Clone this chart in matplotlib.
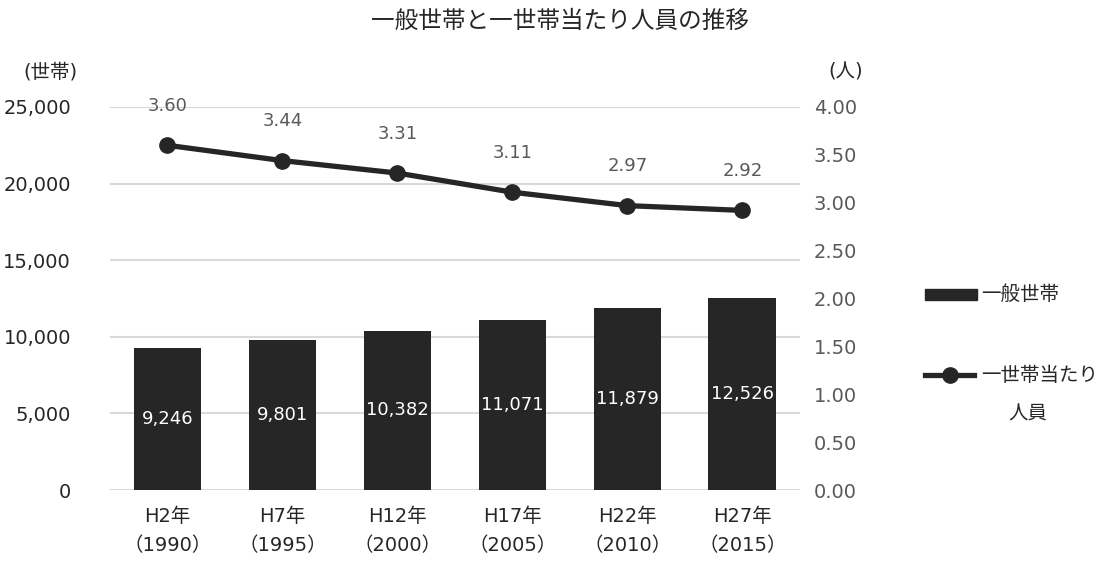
import matplotlib.pyplot as plt
from matplotlib.lines import Line2D
from matplotlib.patches import Rectangle

plt.rcParams['font.family'] = ['DejaVu Sans', 'Noto Sans CJK JP']

# データ
years = ['H2年\n（1990）', 'H7年\n（1995）', 'H12年\n（2000）',
         'H17年\n（2005）', 'H22年\n（2010）', 'H27年\n（2015）']
households = [9246, 9801, 10382, 11071, 11879, 12526]
persons = [3.60, 3.44, 3.31, 3.11, 2.97, 2.92]

dark = '#262626'
grey = '#595959'

fig = plt.figure(figsize=(11.2, 5.74), dpi=100)
ax = fig.add_axes([0.0982, 0.1463, 0.616, 0.6673])
ax2 = ax.twinx()

x = range(len(years))
ax.set_axisbelow(True)
ax.bar(x, households, width=0.59, color=dark, zorder=2)
for xi, v in zip(x, households):
    ax.text(xi, v / 2, f'{v:,}', color='white', ha='center', va='center',
            fontsize=13, zorder=3)

ax.set_ylim(0, 25000)
ax.set_yticks(range(0, 25001, 5000))
ax.set_yticklabels([f'{v:,}' for v in range(0, 25001, 5000)])
ax.set_xlim(-0.5, len(years) - 0.5)
ax.set_xticks(list(x))
ax.set_xticklabels(years, linespacing=1.7)
ax.grid(axis='y', color='#d9d9d9', linewidth=1.5)
ax.tick_params(axis='both', length=0, labelsize=14, colors=dark, pad=12)
ax.tick_params(axis='y', pad=28)

ax2.plot(list(x), persons, color=dark, linewidth=3.8, marker='o', markersize=11, zorder=3)
for xi, v in zip(x, persons):
    ax2.annotate(f'{v:.2f}', (xi, v), xytext=(0, 22), textcoords='offset points',
                 ha='center', va='bottom', fontsize=13, color=grey)
ax2.set_ylim(0, 4.0)
ax2.set_yticks([i * 0.5 for i in range(9)])
ax2.set_yticklabels([f'{i * 0.5:.2f}' for i in range(9)])
ax2.tick_params(axis='y', length=0, labelsize=14, colors=grey, pad=10)

for a in (ax, ax2):
    for s in a.spines.values():
        s.set_visible(False)

fig.text(0.5, 0.962, '一般世帯と一世帯当たり人員の推移', ha='center', va='center',
         fontsize=17, color=dark, family='Noto Sans CJK JP')
fig.text(0.045, 0.875, '(世帯)', ha='center', va='center', fontsize=14, color=dark)
fig.text(0.755, 0.875, '(人)', ha='center', va='center', fontsize=14, color=dark)

# 凡例
fig.patches.append(Rectangle((0.826, 0.477), 0.046, 0.02, transform=fig.transFigure,
                             color=dark))
fig.text(0.876, 0.487, '一般世帯', ha='left', va='center', fontsize=14, color=dark)
fig.lines.append(Line2D([0.826, 0.870], [0.346, 0.346], transform=fig.transFigure,
                        color=dark, linewidth=3.8))
fig.lines.append(Line2D([0.848], [0.346], transform=fig.transFigure, color=dark,
                        marker='o', markersize=11, linestyle='None'))
fig.text(0.876, 0.346, '一世帯当たり', ha='left', va='center', fontsize=14, color=dark)
fig.text(0.918, 0.278, '人員', ha='center', va='center', fontsize=14, color=dark)

fig.savefig('out.png', dpi=100)
